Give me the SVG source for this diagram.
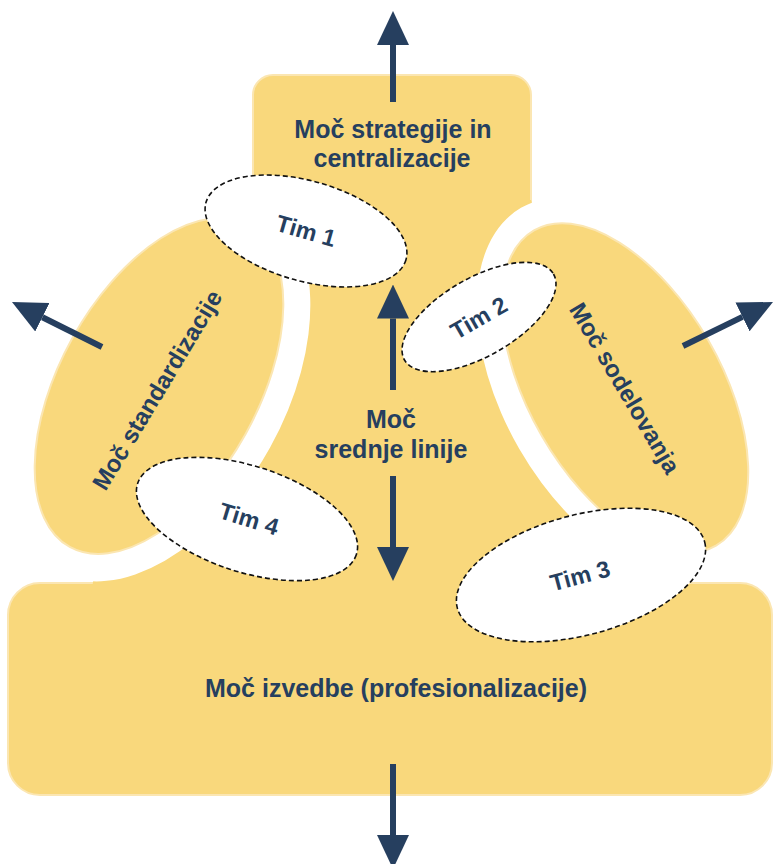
<svg xmlns="http://www.w3.org/2000/svg" width="773" height="864" viewBox="0 0 773 864">
  <style>
    .blk { fill: #F9D87C; stroke: #FBE6B2; stroke-width: 2; }
    .body { fill: #F9D87C; }
    .gap { fill: #FFFFFF; }
    .tim { fill: #FFFFFF; stroke: #111111; stroke-width: 1.6; stroke-dasharray: 5 3; }
    .lbl { font-family: "Liberation Sans", Arial, sans-serif; font-weight: bold; fill: #263F5F; text-anchor: middle; }
    .big { font-size: 25px; }
    .side { font-size: 24px; }
    .small { font-size: 23.5px; }
    .arrow { stroke: #263F5F; stroke-width: 6; fill: none; marker-end: url(#head); }
  </style>
  <defs>
    <marker id="head" markerUnits="userSpaceOnUse" markerWidth="34" markerHeight="32" refX="0" refY="16" orient="auto" viewBox="0 0 34 32">
      <path d="M0,0 L34,16 L0,32 Z" fill="#263F5F"/>
    </marker>
  </defs>

  <!-- base shapes -->
  <g id="strategija">
    <rect class="blk" x="253" y="75" width="278" height="150" rx="20"/>
  </g>
  <g id="izvedba">
    <rect class="blk" x="8" y="583" width="764" height="212" rx="32"/>
  </g>
  <g id="srednja-linija">
    <path class="body" d="M253 200 L531 200 L560 300 L640 560 L665 600 L90 600 L100 540 L250 300 Z"/>
  </g>

  <!-- white separation bands -->
  <ellipse class="gap" cx="159" cy="386" rx="212" ry="127" transform="rotate(-61 159 386)"/>
  <ellipse class="gap" cx="625" cy="388" rx="208" ry="122" transform="rotate(60 625 388)"/>

  <g id="standardizacija">
    <ellipse class="blk" cx="159" cy="386" rx="184" ry="99" transform="rotate(-61 159 386)"/>
    <text class="lbl side" transform="translate(157 390) rotate(-59)" x="0" y="8.5">Moč standardizacije</text>
  </g>
  <g id="sodelovanje">
    <ellipse class="blk" cx="625" cy="388" rx="182" ry="96" transform="rotate(60 625 388)"/>
    <text class="lbl side" transform="translate(625 388) rotate(59.5)" x="0" y="8.5">Moč sodelovanja</text>
  </g>

  <g id="tim1">
    <ellipse class="tim" cx="306" cy="231" rx="104" ry="50" transform="rotate(16 306 231)"/>
    <text class="lbl small" transform="translate(306 231) rotate(16)" x="0" y="8">Tim 1</text>
  </g>
  <g id="tim2">
    <ellipse class="tim" cx="479" cy="317" rx="86" ry="39" transform="rotate(-30 479 317)"/>
    <text class="lbl small" transform="translate(479 318) rotate(-30)" x="0" y="8">Tim 2</text>
  </g>
  <g id="tim3">
    <ellipse class="tim" cx="581" cy="575" rx="128" ry="60" transform="rotate(-15 581 575)"/>
    <text class="lbl small" transform="translate(580 576) rotate(-15)" x="0" y="8">Tim 3</text>
  </g>
  <g id="tim4">
    <ellipse class="tim" cx="247" cy="519" rx="115" ry="53" transform="rotate(18 247 519)"/>
    <text class="lbl small" transform="translate(249 519) rotate(17)" x="0" y="8">Tim 4</text>
  </g>

  <g id="connectors">
    <line class="arrow" x1="393" y1="102" x2="393" y2="45"/>
    <line class="arrow" x1="393" y1="390" x2="393" y2="318.5"/>
    <line class="arrow" x1="393" y1="476" x2="393" y2="547"/>
    <line class="arrow" x1="393" y1="764" x2="393" y2="835"/>
    <line class="arrow" x1="102" y1="347" x2="42.4" y2="317.2"/>
    <line class="arrow" x1="683" y1="346" x2="742.5" y2="316.9"/>
  </g>

  <g id="labels">
    <text class="lbl big" x="393" y="138">Moč strategije in</text>
    <text class="lbl big" x="392" y="166.5">centralizacije</text>
    <text class="lbl big" x="391" y="428">Moč</text>
    <text class="lbl big" x="391" y="458">srednje linije</text>
    <text class="lbl big" x="396" y="697">Moč izvedbe (profesionalizacije)</text>
  </g>
</svg>
